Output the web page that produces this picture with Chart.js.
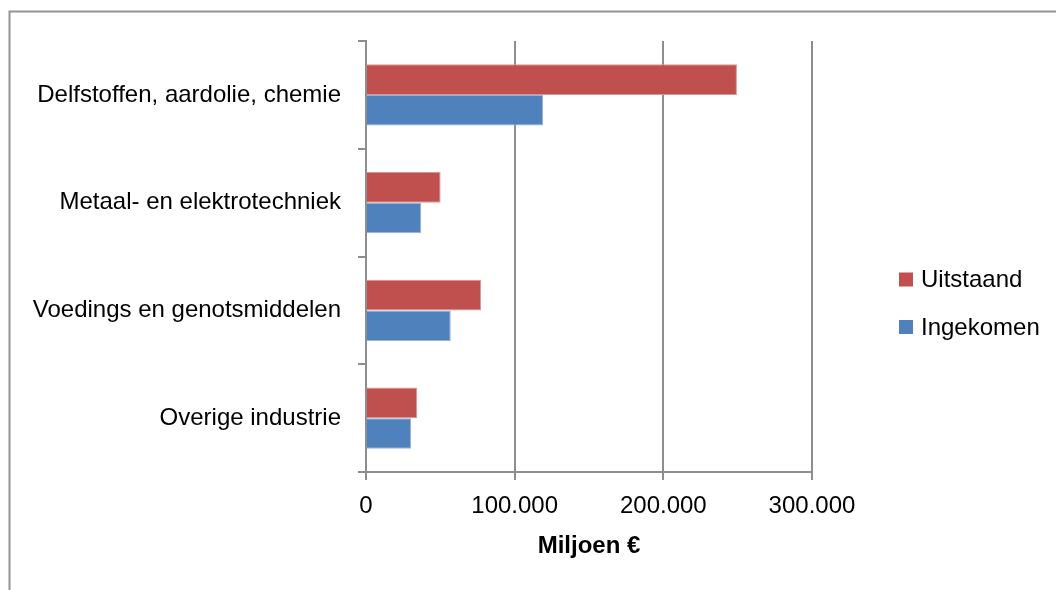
<!DOCTYPE html>
<html>
<head>
<meta charset="utf-8">
<script src="https://cdn.jsdelivr.net/npm/chart.js@4"></script>
<style>
  body { margin: 0; background: #fff; }
  #wrap { position: relative; width: 1056px; height: 590px; overflow: hidden; }
  canvas { position: absolute; left: 0; top: 0; }
</style>
</head>
<body>
<div id="wrap"><canvas id="chart" width="1056" height="590"></canvas></div>
<script>
const categories = [
    'Delfstoffen, aardolie, chemie',
    'Metaal- en elektrotechniek',
    'Voedings en genotsmiddelen',
    'Overige industrie'
];
const uitstaand = [249500, 50200, 77500, 34500];
const ingekomen = [119200, 37200, 57000, 30300];
const xTicks = [0, 100000, 200000, 300000];

const FONT = '"Liberation Sans", Arial, sans-serif';
const GRID = '#8e8e8e';

const formatNumber = (v) => v === 0 ? '0' : v.toLocaleString('de-DE');

// frame + legend drawn the way the spreadsheet lays them out
const frameAndLegend = {
    id: 'frameAndLegend',
    afterDraw(chart) {
        const ctx = chart.ctx;
        ctx.save();
        ctx.strokeStyle = '#939393';
        ctx.lineWidth = 2;
        ctx.beginPath();
        ctx.moveTo(9.5, 600);
        ctx.lineTo(9.5, 11.5);
        ctx.lineTo(1060, 11.5);
        ctx.stroke();

        const rows = [279.5, 327];
        ctx.font = '24px ' + FONT;
        ctx.textBaseline = 'middle';
        ctx.textAlign = 'left';
        chart.data.datasets.forEach((ds, i) => {
            const y = rows[i];
            ctx.fillStyle = ds.backgroundColor;
            ctx.fillRect(899, y - 7, 14, 14);
            ctx.fillStyle = '#000';
            ctx.fillText(ds.label, 921, y + 1);
        });
        ctx.restore();
    }
};

new Chart(document.getElementById('chart'), {
    type: 'bar',
    data: {
        labels: categories,
        datasets: [
            { label: 'Uitstaand', data: uitstaand, backgroundColor: '#C0504D', borderColor: '#D99694', borderWidth: 1 },
            { label: 'Ingekomen', data: ingekomen, backgroundColor: '#4F81BD', borderColor: '#95B3D7', borderWidth: 1 }
        ]
    },
    options: {
        indexAxis: 'y',
        responsive: false,
        animation: false,
        layout: { padding: { top: 41, right: 244, left: 0, bottom: 0 } },
        datasets: { bar: { categoryPercentage: 0.567, barPercentage: 1 } },
        plugins: {
            legend: { display: false },
            tooltip: { enabled: false }
        },
        scales: {
            x: {
                min: 0,
                max: 300000,
                afterFit: (scale) => { scale.height = 118; },
                afterBuildTicks: (scale) => { scale.ticks = xTicks.map((v) => ({ value: v })); },
                ticks: {
                    callback: (v) => formatNumber(v),
                    font: { family: FONT, size: 24 },
                    color: '#000',
                    padding: 12,
                    maxRotation: 0,
                    autoSkip: false
                },
                grid: { color: GRID, lineWidth: 2, tickLength: 8, drawOnChartArea: true },
                border: { color: GRID, width: 2 },
                title: {
                    display: true,
                    text: 'Miljoen €',
                    color: '#000',
                    font: { family: FONT, size: 24, weight: 'bold' },
                    padding: { top: 0, bottom: 29 }
                }
            },
            y: {
                afterFit: (scale) => { scale.width = 366; },
                ticks: {
                    font: { family: FONT, size: 24 },
                    color: '#000',
                    padding: 17
                },
                grid: { color: GRID, lineWidth: 2, tickLength: 8, drawOnChartArea: false, offset: true },
                border: { color: GRID, width: 2 }
            }
        }
    },
    plugins: [frameAndLegend]
});
</script>
</body>
</html>
